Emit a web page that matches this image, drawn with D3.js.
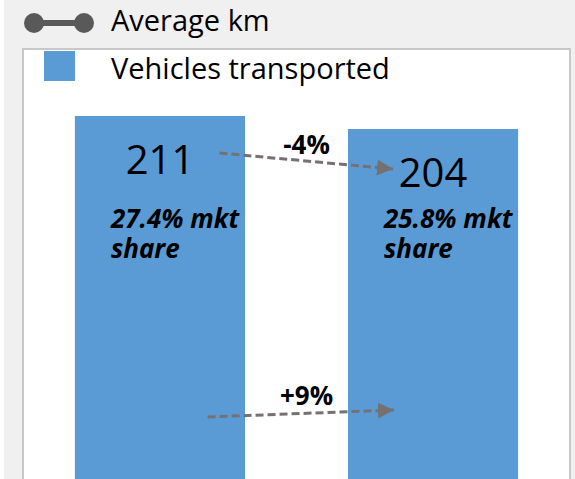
<!DOCTYPE html>
<html>
<head>
<meta charset="utf-8">
<script src="https://cdn.jsdelivr.net/npm/d3@7"></script>
<style>
  html, body { margin: 0; padding: 0; background: #fff; }
  svg { display: block; font-family: 'Open Sans', 'Noto Sans', sans-serif; }
</style>
</head>
<body>
<div id="chart"></div>
<script>
// Vehicles transported, two periods
const categories = ['Period 1', 'Period 2'];
const vehicles = [211, 204];
const mktShare = ['27.4%', '25.8%'];
const changeLabels = ['-4%', '+9%'];
const legendItems = ['Average km', 'Vehicles transported'];

const width = 575;
const height = 479;
const box = { left: 23, top: 49, right: 570 };

const barColor = '#5b9bd5';
const arrowColor = '#767171';

const svg = d3.select('#chart').append('svg')
  .attr('width', width)
  .attr('height', height);

// grey chart area + white plot box
svg.append('rect')
  .attr('x', 4).attr('y', 0)
  .attr('width', width - 4).attr('height', height)
  .style('fill', '#f0f0f0');

svg.append('rect')
  .attr('x', box.left).attr('y', box.top)
  .attr('width', box.right - box.left).attr('height', height)
  .style('fill', '#fff')
  .style('stroke', '#c8c8c8')
  .style('stroke-width', 2);

// scales
const xScale = d3.scaleBand()
  .domain(categories)
  .range([box.left, box.right])
  .paddingInner(0.377)
  .paddingOuter(0.19);

const yScale = d3.scaleLinear()
  .domain([0, d3.max(vehicles)])
  .range([508, 116]);

// bars
svg.selectAll('.bar')
  .data(vehicles)
  .enter().append('rect')
  .attr('class', 'bar')
  .attr('x', (d, i) => xScale(categories[i]))
  .attr('y', d => yScale(d))
  .attr('width', xScale.bandwidth())
  .attr('height', d => yScale(0) - yScale(d))
  .style('fill', barColor);

// value labels
svg.selectAll('.value-label')
  .data(vehicles)
  .enter().append('text')
  .attr('class', 'value-label')
  .attr('x', (d, i) => xScale(categories[i]) + xScale.bandwidth() / 2)
  .attr('y', d => yScale(d) + 58)
  .style('text-anchor', 'middle')
  .style('font-size', '40px')
  .style('fill', '#000')
  .text(d => d);

// market share labels (two lines)
['mkt', 'share'].forEach((part, line) => {
  svg.selectAll('.share-label-' + line)
    .data(mktShare)
    .enter().append('text')
    .attr('class', 'share-label share-label-' + line)
    .attr('x', (d, i) => xScale(categories[i]) + 36)
    .attr('y', 228 + line * 30)
    .style('font-size', '26px')
    .style('font-weight', 'bold')
    .style('font-style', 'italic')
    .style('fill', '#000')
    .text(d => line === 0 ? d + ' mkt' : 'share');
});

// arrows
const defs = svg.append('defs');
defs.append('marker')
  .attr('id', 'arrowhead')
  .attr('markerUnits', 'userSpaceOnUse')
  .attr('viewBox', '0 0 16 16')
  .attr('refX', 16).attr('refY', 8)
  .attr('markerWidth', 16).attr('markerHeight', 16)
  .attr('orient', 'auto')
  .append('path')
  .attr('d', 'M0,0 L16,8 L0,16 Z')
  .style('fill', arrowColor);

const x0 = xScale(categories[0]);
const x1 = xScale(categories[1]);
const bw = xScale.bandwidth();

const arrows = [
  { from: [x0 + bw * 0.85, yScale(vehicles[0]) + 37], to: [x1 + 45, yScale(vehicles[1]) + 40], label: changeLabels[0], labelY: 154 },
  { from: [x0 + bw * 0.78, 417], to: [x1 + 46, 410], label: changeLabels[1], labelY: 405 }
];

arrows.forEach(a => {
  svg.append('line')
    .attr('x1', a.from[0]).attr('y1', a.from[1])
    .attr('x2', a.to[0]).attr('y2', a.to[1])
    .style('stroke', arrowColor)
    .style('stroke-width', 3)
    .style('stroke-dasharray', '8,4')
    .attr('marker-end', 'url(#arrowhead)');

  svg.append('text')
    .attr('x', (x0 + bw + x1) / 2 + 10)
    .attr('y', a.labelY)
    .style('text-anchor', 'middle')
    .style('font-size', '26px')
    .style('font-weight', 'bold')
    .style('fill', '#000')
    .text(a.label);
});

// legend
const legend = svg.selectAll('.legend')
  .data(legendItems)
  .enter().append('g')
  .attr('class', 'legend')
  .attr('transform', (d, i) => `translate(0, ${i * 48})`);

legend.filter((d, i) => i === 0).each(function() {
  const g = d3.select(this);
  g.append('line')
    .attr('x1', 34).attr('x2', 84)
    .attr('y1', 23).attr('y2', 23)
    .style('stroke', '#595959')
    .style('stroke-width', 6);
  [34, 84].forEach(cx => g.append('circle')
    .attr('cx', cx).attr('cy', 23).attr('r', 10)
    .style('fill', '#595959'));
});

legend.filter((d, i) => i === 1).append('rect')
  .attr('x', 44).attr('y', 3)
  .attr('width', 31).attr('height', 30)
  .style('fill', barColor);

legend.append('text')
  .attr('x', 111)
  .attr('y', 31)
  .style('font-size', '29px')
  .style('fill', '#000')
  .text(d => d);
</script>
</body>
</html>
